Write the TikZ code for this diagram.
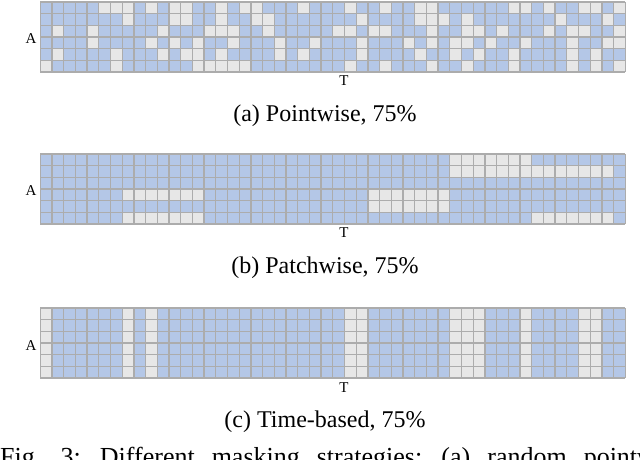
\documentclass[tikz,border=0pt]{standalone}
\usepackage{fontspec}
\setmainfont{Liberation Serif}
\definecolor{cellblue}{RGB}{180,199,231}
\definecolor{cellgray}{RGB}{231,231,231}
\definecolor{gridcol}{RGB}{172,172,172}
\tikzset{
  gridline/.style={draw=gridcol, line width=1.3bp},
  axislabel/.style={font=\fontsize{15bp}{18bp}\selectfont, inner sep=0pt, anchor=base},
  subcaption/.style={font=\fontsize{24bp}{28bp}\selectfont, inner sep=0pt, anchor=base},
  figcaption/.style={font=\fontsize{26bp}{30bp}\selectfont, inner sep=0pt, anchor=base west},
}
% #1 = top y, #2 = list of row/{gray columns}
\newcommand\maskgrid[2]{%
  \fill[cellblue] (40.3,#1) rectangle ++(585,70);
  \foreach \r/\l in {#2}{%
    \foreach \c in \l {%
      \fill[cellgray] ({40.3+\c*11.7},{#1+\r*11.6667}) rectangle ++(11.7,11.6667);
    }%
  }%
  \foreach \i in {0,...,50}{\draw[gridline] ({40.3+\i*11.7},#1) -- ++(0,70);}%
  \foreach \j in {0,...,6}{\draw[gridline] (40.3,{#1+\j*11.6667}) -- ++(585,0);}%
}
\begin{document}
\begin{tikzpicture}[x=1bp,y=-1bp]
\useasboundingbox (0,0) rectangle (640,460);
\clip (0,0) rectangle (640,460);
\fill[white] (0,0) rectangle (640,460);

% (a) pointwise
\maskgrid{2}{0/{5,6,7,9,11,12,15,17,18,22,26,29,32,33,40,41,43,46,47,49},
1/{7,11,12,15,18,19,27,32,33,34,36,44,48},
2/{1,4,10,14,15,16,19,25,26,28,29,33,36,37,39,43,45,46,49},
3/{4,9,11,13,16,20,23,27,31,33,35,36,38,41,45,48,49},
4/{1,6,10,12,13,15,20,22,27,32,35,37,40,45,47},
5/{0,6,13,14,15,16,17,26,29,33,36,40,45,47,49}}
\node[axislabel] (A1) at (31,44) {A};
\node[axislabel] (T1) at (344,86) {T};
\node[subcaption] (capa) at (325,122) {(a) Pointwise, 75\%};

% (b) patchwise
\maskgrid{154}{0/{35,36,37,38,39,40,41},
1/{35,36,37,38,39,40,41,42,43,44,45,46,47,48},
3/{7,8,9,10,11,12,13,28,29,30,31,32,33,34},
4/{28,29,30,31,32,33,34},
5/{7,8,9,10,11,12,13,42,43,44,45,46,47,48}}
\node[axislabel] (A2) at (31,196) {A};
\node[axislabel] (T2) at (344,238) {T};
\node[subcaption] (capb) at (325,274) {(b) Patchwise, 75\%};

% (c) time-based
\maskgrid{308}{0/{0,7,9,26,27,35,36,37,41,46,47},
1/{0,7,9,26,27,35,36,37,41,46,47},
2/{0,7,9,26,27,35,36,37,41,46,47},
3/{0,7,9,26,27,35,36,37,41,46,47},
4/{0,7,9,26,27,35,36,37,41,46,47},
5/{0,7,9,26,27,35,36,37,41,46,47}}
\node[axislabel] (A3) at (31,350) {A};
\node[axislabel] (T3) at (344,392) {T};
\node[subcaption] (capc) at (325,427) {(c) Time-based, 75\%};

\node[figcaption] (fig) at (0,465) {\spaceskip=17bp plus 2bp\relax Fig. 3: Different masking strategies: (a) random pointwise};
\end{tikzpicture}
\end{document}
